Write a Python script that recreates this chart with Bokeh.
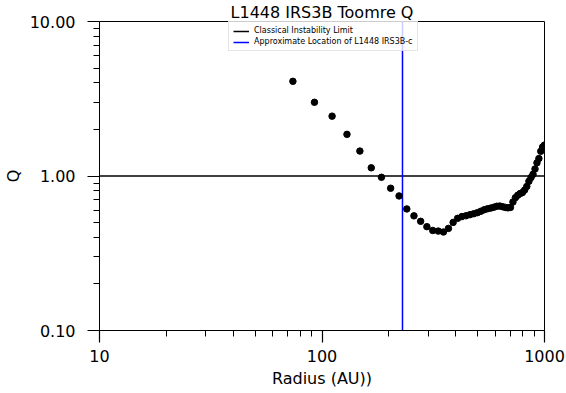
from bokeh.plotting import figure
from bokeh.models import Legend, LegendItem, FixedTicker
from bokeh.embed import file_html
from bokeh.resources import INLINE

# ---- data ----
radius_au = [74, 92.5, 111, 129.5, 148, 166.5, 185, 203.5, 222, 240.5, 259, 277.5,
             296, 314.5, 333, 351.5, 370, 388.5, 407, 425.5, 444, 462.5, 481, 499.5,
             518, 536.5, 555, 573.5, 592, 610.5, 629, 647.5, 666, 684.5, 703, 721.5,
             740, 758.5, 777, 795.5, 814, 832.5, 851, 869.5, 888, 906.5, 925, 943.5,
             962, 980.5, 999]
toomre_q = [4.10, 3.00, 2.44, 1.86, 1.45, 1.13, 0.981, 0.833, 0.743, 0.612, 0.552, 0.509,
            0.470, 0.444, 0.440, 0.434, 0.458, 0.501, 0.532, 0.546, 0.553, 0.562, 0.570, 0.579,
            0.592, 0.605, 0.614, 0.620, 0.628, 0.637, 0.639, 0.633, 0.626, 0.622, 0.626, 0.679,
            0.724, 0.751, 0.770, 0.781, 0.811, 0.856, 0.924, 0.977, 1.025, 1.11, 1.217, 1.297,
            1.445, 1.54, 1.585]

q_critical = 1.0          # classical instability limit
companion_radius = 230.0  # approximate location of L1448 IRS3B-c

x_limits = [10, 1000]
y_limits = [0.1, 10]
x_major = [10, 100, 1000]
x_minor = [20, 30, 40, 50, 60, 70, 80, 90, 200, 300, 400, 500, 600, 700, 800, 900]
x_labels = ["10", "100", "1000"]
y_major = [0.1, 1, 10]
y_minor = [0.2, 0.3, 0.4, 0.5, 0.6, 0.7, 0.8, 0.9, 2, 3, 4, 5, 6, 7, 8, 9]
y_labels = ["0.10", "1.00", "10.00"]

FONT = "DejaVu Sans"

p = figure(width=566, height=393, x_axis_type="log", y_axis_type="log",
           x_range=tuple(x_limits), y_range=tuple(y_limits),
           output_backend="svg", toolbar_location=None,
           min_border_left=99, min_border_right=22, min_border_top=20, min_border_bottom=63,
           title="L1448 IRS3B Toomre Q")

p.title.align = "center"
p.title.text_font = FONT
p.title.text_font_size = "16px"
p.title.text_font_style = "normal"
p.title.text_color = "black"
p.title.offset = 0
p.title.standoff = 0

p.xgrid.visible = False
p.ygrid.visible = False
p.outline_line_color = "black"
p.outline_line_width = 1
p.background_fill_color = "white"
p.border_fill_color = "white"

for ax in (p.xaxis[0], p.yaxis[0]):
    ax.axis_line_color = "black"
    ax.axis_line_width = 1
    ax.major_tick_line_color = "black"
    ax.minor_tick_line_color = "black"
    ax.major_tick_line_width = 1.2
    ax.minor_tick_line_width = 1
    ax.major_tick_in = 0
    ax.minor_tick_in = 0
    ax.major_tick_out = 12
    ax.minor_tick_out = 6
    ax.major_label_text_font = FONT
    ax.major_label_text_font_size = "16px"
    ax.major_label_text_color = "black"
    ax.axis_label_text_font = FONT
    ax.axis_label_text_font_size = "16px"
    ax.axis_label_text_font_style = "normal"
    ax.axis_label_text_color = "black"

p.xaxis[0].ticker = FixedTicker(ticks=x_major, minor_ticks=x_minor)
p.xaxis[0].major_label_overrides = {v: s for v, s in zip(x_major, x_labels)}
p.xaxis[0].axis_label = "Radius (AU))"
p.xaxis[0].major_label_standoff = 7
p.xaxis[0].axis_label_standoff = 4

p.yaxis[0].ticker = FixedTicker(ticks=y_major, minor_ticks=y_minor)
p.yaxis[0].major_label_overrides = {v: s for v, s in zip(y_major, y_labels)}
p.yaxis[0].axis_label = "Q"
p.yaxis[0].major_label_standoff = 12
p.yaxis[0].axis_label_standoff = 4

h_line = p.line(x=x_limits, y=[q_critical, q_critical], line_color="black", line_width=1.5)
v_line = p.line(x=[companion_radius, companion_radius], y=y_limits, line_color="#0000ff", line_width=1.5)
p.scatter(x=radius_au, y=toomre_q, size=6.5, fill_color="black", line_color="black")

legend = Legend(items=[
    LegendItem(label="Classical Instability Limit", renderers=[h_line]),
    LegendItem(label="Approximate Location of L1448 IRS3B-c", renderers=[v_line]),
], location=(129, 279))
legend.label_text_font = FONT
legend.label_text_font_size = "8px"
legend.label_text_color = "black"
legend.label_height = 8
legend.glyph_height = 8
legend.glyph_width = 16
legend.label_standoff = 5
legend.spacing = 2
legend.padding = 4
legend.margin = 0
legend.border_line_color = "#cccccc"
legend.border_line_width = 1
legend.background_fill_color = "white"
legend.background_fill_alpha = 0.8
p.add_layout(legend)

open("out.html", "w").write(file_html(p, INLINE))
